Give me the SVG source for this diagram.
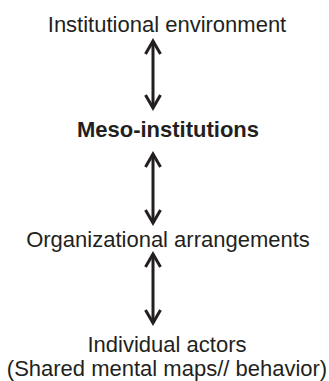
<svg xmlns="http://www.w3.org/2000/svg" width="329" height="381" viewBox="0 0 329 381">
<style>
.t{font-family:"Liberation Sans",Arial,sans-serif;font-size:22px;fill:#231f20;text-anchor:middle}
.b{font-weight:bold}
.c line{stroke:#231f20;stroke-width:3}
.c path{fill:none;stroke:#231f20;stroke-width:3;stroke-linejoin:miter}
</style>
<rect width="329" height="381" fill="#fff"/>
<g id="n1"><text class="t" x="167" y="32">Institutional environment</text></g>
<g id="n2"><text class="t b" x="168" y="137">Meso-institutions</text></g>
<g id="n3"><text class="t" x="168" y="247">Organizational arrangements</text></g>
<g id="n4"><text class="t" x="167" y="352">Individual actors</text><text class="t" x="167" y="376">(Shared mental maps// behavior)</text></g>
<g class="c" id="connectors">
<line x1="153" y1="41" x2="153" y2="108"/>
<path d="M145.5,54 L153,41 L160.5,54"/>
<path d="M145.5,95 L153,108 L160.5,95"/>
<line x1="153" y1="154" x2="153" y2="223"/>
<path d="M145.5,167 L153,154 L160.5,167"/>
<path d="M145.5,210 L153,223 L160.5,210"/>
<line x1="153" y1="254" x2="153" y2="323"/>
<path d="M145.5,267 L153,254 L160.5,267"/>
<path d="M145.5,310 L153,323 L160.5,310"/>
</g>
</svg>
